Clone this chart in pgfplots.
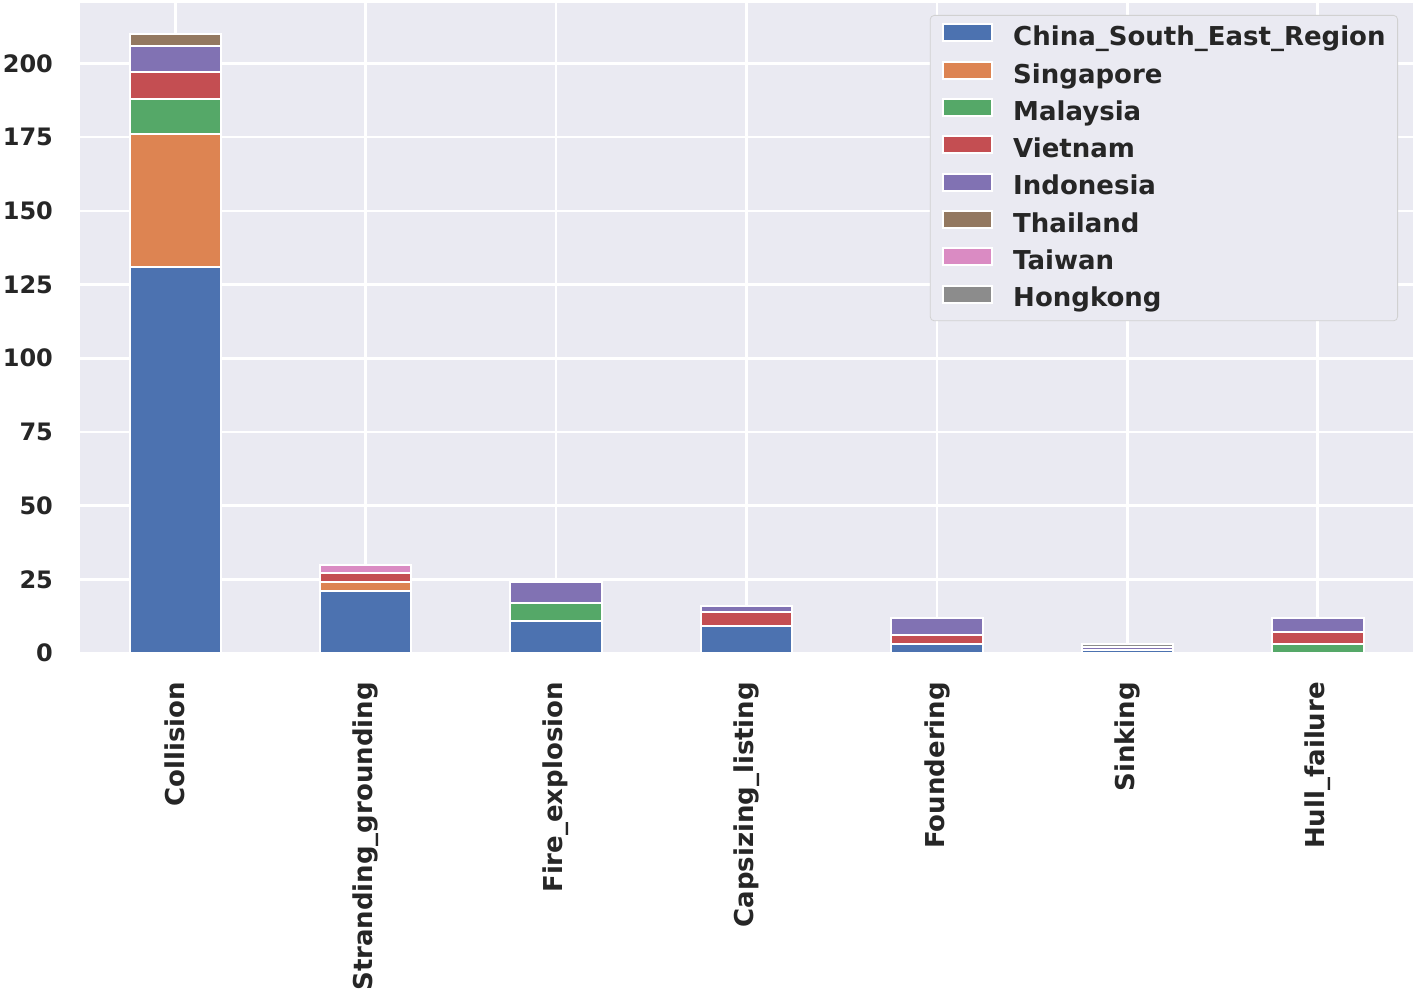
\documentclass[border=0pt]{standalone}
\usepackage{pgfplots}
\pgfplotsset{compat=1.18}
\usepackage{pgfplotstable}
\usepackage{fontspec}
\setmainfont{DejaVu Sans}

\definecolor{bgc}{HTML}{EAEAF2}
\definecolor{txt}{HTML}{262626}
\definecolor{c1}{HTML}{4C72B0}
\definecolor{c2}{HTML}{DD8452}
\definecolor{c3}{HTML}{55A868}
\definecolor{c4}{HTML}{C44E52}
\definecolor{c5}{HTML}{8172B3}
\definecolor{c6}{HTML}{937860}
\definecolor{c7}{HTML}{DA8BC3}
\definecolor{c8}{HTML}{8C8C8C}

\pgfplotstableread{
x china sing malay viet indo thai taiwan hk
0 131 45 12 9 9 4 0 0
1 21 3 0 3 0 0 3 0
2 11 0 6 0 7 0 0 0
3 9 0 0 5 2 0 0 0
4 3 0 0 3 6 0 0 0
5 1 0 0 0 1 0 0 1
6 0 0 3 4 5 0 0 0
}\data

\pgfplotsset{
  patchlegend/.style={legend image code/.code={\path[##1, sharp corners] (0pt,-1.2pt) rectangle (24.5pt,7.3pt);}}
}

\begin{document}
\begin{tikzpicture}
\useasboundingbox (-40pt,-170.5pt) rectangle (668pt,326.5pt);
\begin{axis}[
  at={(0,0)}, anchor=south west,
  scale only axis, width=666.5pt, height=325pt,
  ybar stacked, bar width=0.48,
  xmin=-0.5, xmax=6.5, ymin=0, ymax=220.5,
  xtick={0,...,6},
  xticklabels={Collision,Stranding\_grounding,Fire\_explosion,Capsizing\_listing,Foundering,Sinking,Hull\_failure},
  ytick={0,25,...,200},
  /pgf/number format/assume math mode=true,
  axis background/.style={fill=bgc},
  axis line style={draw=none},
  major tick length=0pt,
  grid=major, major grid style={white, line width=1.3pt},
  yticklabel style={font=\fontsize{12}{14}\selectfont\bfseries, text=txt, xshift=-10pt},
  xticklabel style={font=\fontsize{13}{15}\selectfont\bfseries, text=txt, yshift=-11pt, rotate=90, anchor=east},
  every axis plot post/.append style={draw=white, line width=1pt, patchlegend},
  legend cell align=left,
  legend style={at={(1,1)}, anchor=north east, xshift=-7.5pt, yshift=-6pt,
    fill=bgc, draw=black!18, rounded corners=2pt, text=txt,
    font=\fontsize{13}{15}\selectfont\bfseries,
    inner xsep=6pt, inner ysep=4pt, row sep=4.5pt,
    nodes={inner sep=0pt, text height=9.7pt, text depth=3pt},
    /tikz/every odd column/.append style={column sep=10pt}},
]
\addplot[fill=c1] table[x=x,y=china] {\data};
\addplot[fill=c2] table[x=x,y=sing] {\data};
\addplot[fill=c3] table[x=x,y=malay] {\data};
\addplot[fill=c4] table[x=x,y=viet] {\data};
\addplot[fill=c5] table[x=x,y=indo] {\data};
\addplot[fill=c6] table[x=x,y=thai] {\data};
\addplot[fill=c7] table[x=x,y=taiwan] {\data};
\addplot[fill=c8] table[x=x,y=hk] {\data};
\legend{China\_South\_East\_Region,Singapore,Malaysia,Vietnam,Indonesia,Thailand,Taiwan,Hongkong}
\end{axis}
\end{tikzpicture}
\end{document}
